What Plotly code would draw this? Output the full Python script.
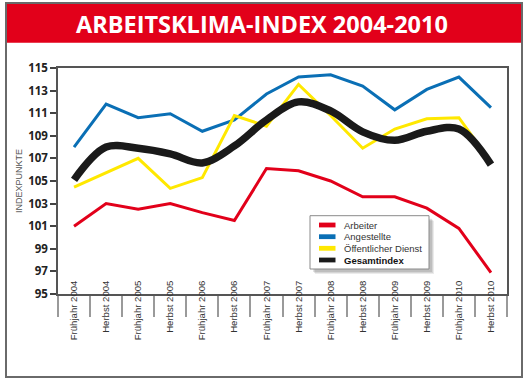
import plotly.graph_objects as go

# ---------------- data ----------------
categories = ["Frühjahr 2004", "Herbst 2004", "Frühjahr 2005", "Herbst 2005",
              "Frühjahr 2006", "Herbst 2006", "Frühjahr 2007", "Herbst 2007",
              "Frühjahr 2008", "Herbst 2008", "Frühjahr 2009", "Herbst 2009",
              "Frühjahr 2010", "Herbst 2010"]
arbeiter = [101.0, 103.0, 102.5, 103.0, 102.2, 101.5, 106.1, 105.9, 105.0, 103.6, 103.6, 102.6, 100.8, 96.9]
angestellte = [108.0, 111.8, 110.6, 110.95, 109.4, 110.4, 112.7, 114.2, 114.4, 113.4, 111.3, 113.1, 114.2, 111.5]
oeffentlich = [104.45, 105.7, 107.0, 104.35, 105.3, 110.8, 109.85, 113.55, 110.8, 107.9, 109.6, 110.5, 110.6, 106.7]
gesamt = [105.1, 108.0, 107.9, 107.4, 106.6, 108.1, 110.4, 112.0, 111.2, 109.35, 108.6, 109.4, 109.6, 106.45]
y_ticks = [95, 97, 99, 101, 103, 105, 107, 109, 111, 113, 115]
series_names = ["Arbeiter", "Angestellte", "Öffentlicher Dienst", "Gesamtindex"]
title_text = "ARBEITSKLIMA-INDEX 2004-2010"
y_title = "INDEXPUNKTE"

# ---------------- styling ----------------
RED, BLUE, YELLOW, BLACK = "#e2001a", "#0a6fb5", "#ffe800", "#1a1a1a"
W, H = 528, 380
L, R, T, B = 58, 21, 68, 86
pw, ph = W - L - R, H - T - B


def px(x):
    return (x - L) / pw


def py(y):
    return (H - B - y) / ph


fig = go.Figure()
series = [(arbeiter, RED, 3, "linear"), (angestellte, BLUE, 3, "linear"),
          (oeffentlich, YELLOW, 3, "linear"), (gesamt, BLACK, 7.5, "spline")]
for name, (vals, col, w, shp) in zip(series_names, series):
    fig.add_trace(go.Scatter(
        x=categories, y=vals, mode="lines", name=name,
        line=dict(color=col, width=w, shape=shp, smoothing=1.0),
        showlegend=False, hoverinfo="skip"))

shapes = []
annotations = []

# outer red title bar and frame
shapes.append(dict(type="rect", xref="paper", yref="paper",
                   x0=px(6), x1=px(522), y0=py(42.7), y1=py(3),
                   fillcolor=RED, line=dict(width=0), layer="below"))
shapes.append(dict(type="rect", xref="paper", yref="paper",
                   x0=px(6), x1=px(522), y0=py(377), y1=py(3),
                   fillcolor="rgba(0,0,0,0)", line=dict(color="#6a6a6a", width=2)))
annotations.append(dict(text=title_text, xref="paper", yref="paper",
                        x=px(262), y=py(23.5), showarrow=False,
                        xanchor="center", yanchor="middle",
                        font=dict(family="Open Sans", size=23.5, color="white", weight=700)))

# manual legend
lx0, lx1, ly0, ly1 = 310, 429, 215.7, 269
for off, a in [(5, 0.10), (4, 0.12), (3, 0.15)]:
    shapes.append(dict(type="rect", xref="paper", yref="paper",
                       x0=px(lx0 + off), x1=px(lx1 + off), y0=py(ly1 + off), y1=py(ly0 + off),
                       fillcolor=f"rgba(60,60,60,{a})", line=dict(width=0)))
shapes.append(dict(type="rect", xref="paper", yref="paper",
                   x0=px(lx0), x1=px(lx1), y0=py(ly1), y1=py(ly0),
                   fillcolor="white", line=dict(color="#8a8a8a", width=1)))
row_y = [225, 236.7, 248.3, 260]
for name, (vals, col, w, shp), ry in zip(series_names, series, row_y):
    shapes.append(dict(type="rect", xref="paper", yref="paper",
                       x0=px(319), x1=px(335.5), y0=py(ry + 2.4), y1=py(ry - 2.4),
                       fillcolor=col, line=dict(width=0)))
    bold = name == "Gesamtindex"
    annotations.append(dict(text=name, xref="paper", yref="paper",
                            x=px(341.5), y=py(ry), showarrow=False,
                            xanchor="left", yanchor="middle",
                            font=dict(family="Liberation Sans, Arial", size=9.5,
                                      color="#111" if bold else "#333",
                                      weight=700 if bold else 400)))

fig.update_layout(
    width=W, height=H,
    margin=dict(l=L, r=R, t=T, b=B, autoexpand=False),
    paper_bgcolor="white", plot_bgcolor="white",
    shapes=shapes, annotations=annotations,
    showlegend=False, hovermode=False,
)
fig.update_xaxes(
    type="category", range=[-0.5, len(categories) - 0.5],
    tickson="boundaries", ticks="outside", ticklen=21, tickwidth=1.5, tickcolor="#9a9a9a",
    tickangle=-90, ticklabelstandoff=-19,
    tickfont=dict(family="Liberation Sans, Arial", size=9.6, color="#333"),
    showline=True, linecolor="#555", linewidth=1.5, mirror=True,
    showgrid=False, zeroline=False, automargin=False, fixedrange=True,
)
fig.update_yaxes(
    range=[95, 115], tickvals=y_ticks, ticks="outside", ticklen=6, tickwidth=1.5, tickcolor="#444",
    tickfont=dict(family="Open Sans", size=11.5, color="#222", weight=700),
    showline=True, linecolor="#555", linewidth=1.5, mirror=True,
    showgrid=False, zeroline=False, automargin=False, fixedrange=True,
    title=dict(text=y_title, standoff=4,
               font=dict(family="Liberation Sans, Arial", size=9, color="#555")),
)

fig.write_html("out.html", config={"displayModeBar": False},
               post_script="document.body.style.margin='0px';document.body.style.overflow='hidden';")
